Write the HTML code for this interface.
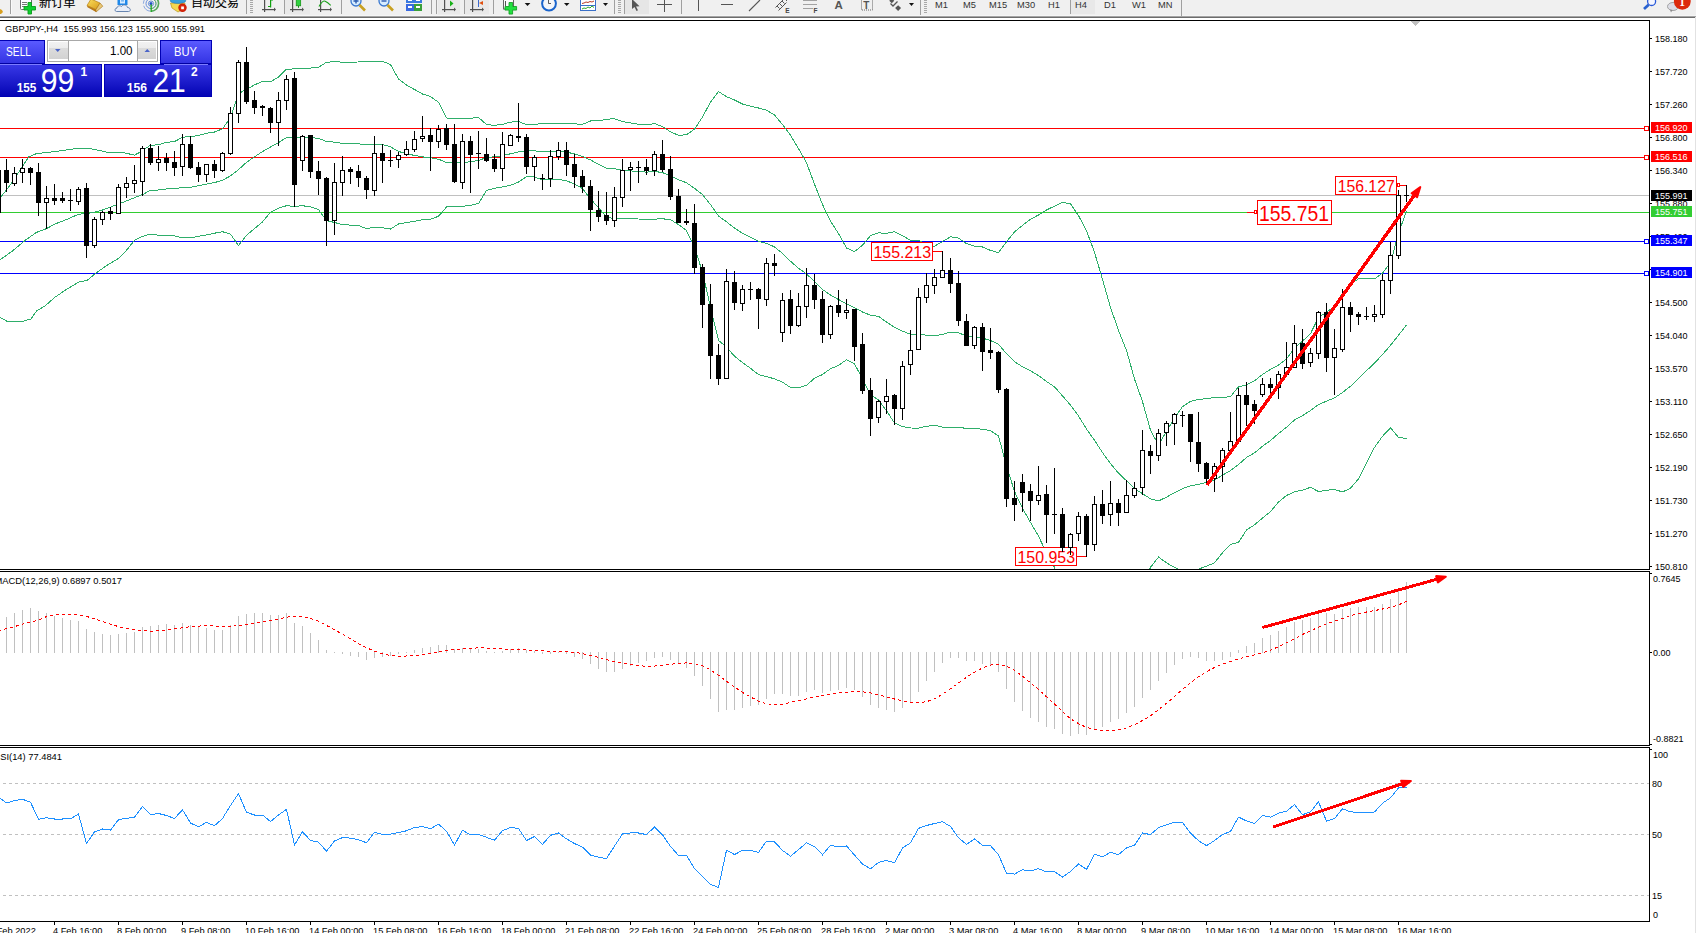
<!DOCTYPE html><html><head><meta charset="utf-8"><title>GBPJPY,H4</title><style>
html,body{margin:0;padding:0;background:#fff;overflow:hidden;}
svg{display:block;} text{font-family:'Liberation Sans', Arial, sans-serif;}
</style></head><body>
<svg width="1696" height="933" viewBox="0 0 1696 933">
<rect x="0" y="0" width="1696" height="16" fill="#f0f0f0"/>
<rect x="0" y="15" width="1696" height="1" fill="#f5f5f5"/>
<rect x="0" y="16" width="1696" height="1" fill="#a4a4a4"/>
<rect x="0" y="17" width="1696" height="1" fill="#6c6c6c"/>
<rect x="1695" y="17" width="1" height="916" fill="#e2e2e2"/>
<g id="toolbar">
<!-- partial gold icon at left -->
<polygon points="0,9 2,10 3,12 1,14 0,14" fill="#d8a020"/>
<rect x="10" y="0" width="1" height="14" fill="#a0a0a0"/>
<rect x="11" y="0" width="1" height="14" fill="#fafafa"/>
<!-- new order icon -->
<rect x="20.5" y="-2.5" width="11" height="12" rx="1" fill="#fff" stroke="#6a6a6a" stroke-width="1"/>
<rect x="22" y="2" width="5" height="1" fill="#777"/>
<rect x="22" y="4" width="5" height="1" fill="#777"/>
<rect x="22" y="6" width="3" height="1" fill="#777"/>
<path d="M28,2.5h3.5v4h4v3.5h-4v4h-3.5v-4h-4v-3.5h4z" fill="#10d030" stroke="#0a9a1a" stroke-width="0.9"/>
<text x="39" y="6.8" font-size="12.2" fill="#000" stroke="#000" stroke-width="0.12" style="font-family:'Liberation Sans','Noto Sans CJK SC','WenQuanYi Zen Hei',sans-serif">新订单</text>
<!-- gold book -->
<defs>
<linearGradient id="gGold" x1="0" y1="0" x2="1" y2="1"><stop offset="0" stop-color="#fbe060"/><stop offset="1" stop-color="#d89a18"/></linearGradient>
<radialGradient id="gRad" cx="0.5" cy="0.5" r="0.5"><stop offset="0" stop-color="#f04020"/><stop offset="1" stop-color="#c81800"/></radialGradient>
</defs>
<polygon points="87,5.5 91,-1 100,3 96,9.5" fill="url(#gGold)" stroke="#b88010" stroke-width="0.7"/>
<polygon points="87,5.5 96,9.5 96,12 87.5,7.3" fill="#b87818"/>
<polygon points="96,9.5 100,3 102.8,6.2 96,12" fill="#e8c878" stroke="#a87010" stroke-width="0.6"/>
<!-- blue doc + cloud -->
<rect x="117.5" y="-2" width="10" height="7" fill="#1e88ea"/>
<rect x="120" y="-1" width="5" height="4.5" fill="#d8ecff"/>
<rect x="121" y="0.5" width="3" height="0.8" fill="#1e88ea"/>
<path d="M116.5,11.5 C114.5,11.5 114.5,8 117,8 C117,6 120,5 121.5,6.5 C122.5,4 127,4.5 127.5,7.5 C130.5,7.3 131.5,11.5 128.5,11.5 Z" fill="#e8eef8" stroke="#5878a8" stroke-width="0.9"/>
<!-- radio waves -->
<g fill="none">
<circle cx="151" cy="3.6" r="7.6" stroke="#8aa8e0" stroke-width="1" stroke-dasharray="11 1.5 9 2"/>
<path d="M151,-4 A7.6,7.6 0 0 1 151,11.2" stroke="#58aa58" stroke-width="1.6"/>
<circle cx="151" cy="3.6" r="5" stroke="#5a86d8" stroke-width="0.9"/>
<path d="M151,-1.4 A5,5 0 0 1 151,8.6" stroke="#6ab46a" stroke-width="1"/>
<circle cx="151" cy="3.6" r="2.6" stroke="#4a7ad0" stroke-width="0.8"/>
</g>
<circle cx="151" cy="3.6" r="1.5" fill="#2050c8"/>
<rect x="150.5" y="4.5" width="1.3" height="7.5" fill="#18a818"/>
<!-- autotrading -->
<polygon points="170.5,3 185,3 183.5,9 178,12 172,8" fill="#f4d850" stroke="#b89820" stroke-width="0.7"/>
<ellipse cx="178" cy="0.8" rx="7.8" ry="2.6" fill="#3aa0dc" stroke="#2a78b0" stroke-width="0.6"/>
<circle cx="182.5" cy="7.8" r="4.2" fill="url(#gRad)"/>
<rect x="181.2" y="6.5" width="2.7" height="2.7" fill="#fff"/>
<text x="191" y="7" font-size="12" fill="#000" stroke="#000" stroke-width="0.12" style="font-family:'Liberation Sans','Noto Sans CJK SC','WenQuanYi Zen Hei',sans-serif">自动交易</text>
<!-- separators -->
<rect x="246" y="0" width="1" height="14" fill="#a0a0a0"/>
<g fill="#a8a8a8"><rect x="250" y="0" width="3" height="1"/><rect x="250" y="2" width="3" height="1"/><rect x="250" y="4" width="3" height="1"/><rect x="250" y="6" width="3" height="1"/><rect x="250" y="8" width="3" height="1"/><rect x="250" y="10" width="3" height="1"/><rect x="250" y="12" width="3" height="1"/></g>
<!-- bar chart icon -->
<rect x="264" y="0" width="1.2" height="12" fill="#505050"/><rect x="262" y="9" width="12" height="1.2" fill="#505050"/><polygon points="274,7.6 276,9.6 274,11.6" fill="#505050"/>
<path d="M268,6.5h2.5M270.6,7.6v-8M270.6,0h2.4" fill="none" stroke="#10a010" stroke-width="1.2"/>
<rect x="284" y="0" width="1" height="14" fill="#a0a0a0"/>
<!-- pressed candle button -->
<rect x="285" y="-1" width="25" height="15.5" fill="#e9e9e9"/>
<rect x="292" y="0" width="1.2" height="12" fill="#505050"/><rect x="290" y="9" width="12" height="1.2" fill="#505050"/><polygon points="302,7.6 304,9.6 302,11.6" fill="#505050"/>
<rect x="296.2" y="-1" width="4.5" height="6.8" fill="#30d040" stroke="#109010" stroke-width="0.7"/>
<rect x="298" y="5.8" width="1" height="2" fill="#109010"/>
<!-- line chart icon -->
<rect x="320" y="0" width="1.2" height="12" fill="#505050"/><rect x="318" y="9" width="12" height="1.2" fill="#505050"/><polygon points="330,7.6 332,9.6 330,11.6" fill="#505050"/>
<path d="M319,6.6 Q322.5,0.2 325.2,1.2 Q327.5,2.2 330.7,5.3" fill="none" stroke="#18a018" stroke-width="1.1"/>
<rect x="341" y="0" width="1" height="14" fill="#a0a0a0"/>
<!-- zoom in / out -->
<g>
<circle cx="356" cy="1" r="5" fill="#d6ecff" stroke="#3a78d0" stroke-width="1.3"/>
<path d="M359.5,5 L365,10.5" stroke="#c8a020" stroke-width="2.6"/>
<path d="M353.5,1h5M356,-1.5v5" stroke="#2a5ab0" stroke-width="1.4"/>
<circle cx="384" cy="1" r="5" fill="#d6ecff" stroke="#3a78d0" stroke-width="1.3"/>
<path d="M387.5,5 L393,10.5" stroke="#c8a020" stroke-width="2.6"/>
<path d="M381.5,1h5" stroke="#2a5ab0" stroke-width="1.4"/>
</g>
<!-- tile -->
<rect x="406" y="-3" width="8" height="6" fill="#3a7ae0"/><rect x="414" y="-3" width="8" height="6" fill="#3a7ae0"/>
<rect x="406" y="4" width="8" height="7" fill="#3a6ae0"/><rect x="414" y="4" width="8" height="7" fill="#3aa03a"/>
<rect x="408" y="6" width="4" height="2" fill="#fff"/><rect x="416" y="6" width="4" height="2" fill="#fff"/>
<rect x="408" y="-1" width="4" height="2" fill="#fff"/><rect x="416" y="-1" width="4" height="2" fill="#fff"/>
<rect x="431" y="0" width="1" height="14" fill="#a0a0a0"/>
<rect x="436" y="0" width="1" height="14" fill="#a0a0a0"/>
<!-- autoscroll pressed -->
<rect x="438" y="-1" width="22" height="15.5" fill="#e9e9e9"/>
<rect x="444" y="0" width="1.2" height="12" fill="#505050"/><rect x="442" y="9" width="12" height="1.2" fill="#505050"/><polygon points="454,7.6 456,9.6 454,11.6" fill="#505050"/>
<polygon points="450,0.5 450,6.5 453.5,3.5" fill="#18b018"/>
<rect x="464" y="0" width="1" height="14" fill="#a0a0a0"/>
<rect x="465" y="-1" width="24" height="15.5" fill="#e9e9e9"/>
<rect x="472" y="0" width="1.2" height="12" fill="#505050"/><rect x="470" y="9" width="12" height="1.2" fill="#505050"/><polygon points="482,7.6 484,9.6 482,11.6" fill="#505050"/>
<rect x="478" y="0" width="1" height="7" fill="#3a6ad0"/>
<polygon points="479,3 483,1 483,5" fill="#e05010"/>
<rect x="493" y="0" width="1" height="14" fill="#a0a0a0"/>
<!-- indicators -->
<rect x="503.5" y="-2.5" width="10" height="11.5" fill="#fdfdfd" stroke="#666" stroke-width="1"/>
<rect x="505" y="1" width="1" height="5" fill="#555"/>
<path d="M509,2.5h3.6v4h4v3.6h-4v4h-3.6v-4h-4v-3.6h4z" fill="#22e040" stroke="#0a9a1a" stroke-width="0.8"/>
<polygon points="524.7,3 530.4,3 527.5,6" fill="#111"/>
<!-- clock -->
<circle cx="549" cy="3.6" r="6.9" fill="#f4f6fa" stroke="#1a64cc" stroke-width="2"/>
<path d="M548.5,-0.5v4h2.5" fill="none" stroke="#333" stroke-width="0.8"/>
<polygon points="564,3 569.5,3 566.7,6" fill="#111"/>
<!-- templates -->
<rect x="580.5" y="-2.5" width="15" height="13" fill="#fff" stroke="#3a70c8" stroke-width="1"/>
<path d="M582,3.5 l2,-0.5 2,-1 2,0.5 2,-1 2,0.5 2,-1" fill="none" stroke="#b02810" stroke-width="0.9"/>
<rect x="581" y="5" width="14" height="1" fill="#3a70c8"/>
<path d="M582,9 l2,-1 2,0.5 2,-1.5 2,1 2,-2 2,1.5" fill="none" stroke="#18a018" stroke-width="0.9"/>
<polygon points="603,3 608,3 605.5,6" fill="#111"/>
<rect x="614" y="0" width="1" height="14" fill="#a0a0a0"/>
<g fill="#a8a8a8"><rect x="618" y="0" width="3" height="1"/><rect x="618" y="2" width="3" height="1"/><rect x="618" y="4" width="3" height="1"/><rect x="618" y="6" width="3" height="1"/><rect x="618" y="8" width="3" height="1"/><rect x="618" y="10" width="3" height="1"/><rect x="618" y="12" width="3" height="1"/></g>
<rect x="624" y="0" width="1" height="14" fill="#a0a0a0"/>
<!-- cursor pressed -->
<rect x="625" y="-1" width="24" height="15" fill="#e6e6e6"/>
<polygon points="632,-1 632,9 634.5,7 636.5,11 638,10.3 636,6.5 639.5,6.3" fill="#555"/>
<!-- crosshair -->
<rect x="657" y="4" width="15" height="1" fill="#555"/><rect x="664" y="-3" width="1" height="15" fill="#555"/>
<rect x="681" y="0" width="1" height="14" fill="#a0a0a0"/>
<rect x="698" y="0" width="1" height="11" fill="#555"/>
<rect x="721" y="4" width="12" height="1" fill="#555"/>
<path d="M749,11 L760,0" stroke="#555" stroke-width="1.1"/>
<g stroke="#555" stroke-width="1" fill="none">
<path d="M775.5,7.5 L783.5,-0.5 M778.5,10.5 L786.5,2.5"/>
<path d="M777,6 l2.5,2.5 M779.5,3.5 l2.5,2.5 M782,1 l2.5,2.5 M784.5,-1.5 l2.5,2.5"/>
</g>
<text x="785.3" y="12.8" font-size="6.5" font-weight="bold" fill="#444">E</text>
<g stroke="#555" stroke-width="1" stroke-dasharray="1 1" fill="none">
<path d="M803.5,0.5h13M803.5,4.5h13M803.5,8.5h10"/>
</g>
<text x="813.5" y="12.8" font-size="6.5" font-weight="bold" fill="#444">F</text>
<text x="834.6" y="8.6" font-size="11.5" font-weight="bold" fill="#555">A</text>
<rect x="861.5" y="-1.5" width="11" height="11.5" fill="none" stroke="#666" stroke-width="1" stroke-dasharray="1 1"/>
<text x="863.2" y="8.6" font-size="10" font-weight="bold" fill="#555">T</text>
<path d="M890.5,3.5 l2.5,2.5 4.5,-4.5" fill="none" stroke="#555" stroke-width="1.3"/>
<rect x="896" y="6" width="4.2" height="4.2" fill="#555" transform="rotate(45 898.1 8.1)"/>
<rect x="890" y="-1" width="3.5" height="3.5" fill="#555" transform="rotate(45 891.75 0.75)"/>
<polygon points="909,3 914,3 911.5,6" fill="#111"/>
<rect x="920" y="0" width="1" height="15" fill="#a0a0a0"/>
<g fill="#a8a8a8"><rect x="924" y="0" width="3" height="1"/><rect x="924" y="2" width="3" height="1"/><rect x="924" y="4" width="3" height="1"/><rect x="924" y="6" width="3" height="1"/><rect x="924" y="8" width="3" height="1"/><rect x="924" y="10" width="3" height="1"/><rect x="924" y="12" width="3" height="1"/></g>
<!-- timeframes -->
<rect x="1070" y="-1" width="25" height="15" fill="#e8e8e8"/>
<rect x="1070" y="0" width="1" height="14" fill="#a0a0a0"/>
<g font-size="9.3" fill="#333">
<text x="935" y="7.8">M1</text>
<text x="963" y="7.8">M5</text>
<text x="989" y="7.8">M15</text>
<text x="1017" y="7.8">M30</text>
<text x="1048" y="7.8">H1</text>
<text x="1075" y="7.8">H4</text>
<text x="1104" y="7.8">D1</text>
<text x="1132" y="7.8">W1</text>
<text x="1158" y="7.8">MN</text>
</g>
<rect x="1181" y="0" width="1" height="16" fill="#a0a0a0"/>
<!-- search -->
<circle cx="1651.6" cy="1.5" r="4" fill="#f4f6ff" stroke="#2a5ad8" stroke-width="1.3"/>
<path d="M1648.6,4.8 L1644,9" stroke="#2a62d0" stroke-width="2.8"/>
<!-- chat + badge -->
<ellipse cx="1673" cy="6.5" rx="5.5" ry="4" fill="#dcdde6" stroke="#9a9a9a" stroke-width="0.9"/>
<polygon points="1670,9.5 1672.5,10 1671,12.5" fill="#8a8a8a"/>
<circle cx="1682.3" cy="1.4" r="8.4" fill="#dc2a0c"/>
<text x="1679.2" y="5.9" font-size="11.5" font-weight="bold" fill="#fff" style="font-family:'Liberation Serif',serif">1</text>
</g>

<g shape-rendering="crispEdges">
<rect x="0" y="20" width="1650" height="1" fill="#000"/>
<rect x="0" y="569" width="1650" height="1" fill="#000"/>
<rect x="0" y="571" width="1650" height="1" fill="#000"/>
<rect x="0" y="745" width="1650" height="1" fill="#000"/>
<rect x="0" y="747" width="1650" height="1" fill="#000"/>
<rect x="0" y="921" width="1650" height="1" fill="#000"/>
<rect x="1649" y="20" width="1" height="550" fill="#000"/>
<rect x="1649" y="571" width="1" height="175" fill="#000"/>
<rect x="1649" y="747" width="1" height="175" fill="#000"/>
<polygon points="1411,21 1420,21 1415.5,26" fill="#c0c0c0"/>
<rect x="1650" y="38" width="2" height="1" fill="#000"/>
<text x="1655" y="42" font-size="9.6" fill="#000" textLength="32.6" lengthAdjust="spacingAndGlyphs">158.180</text>
<rect x="1650" y="71" width="2" height="1" fill="#000"/>
<text x="1655" y="75" font-size="9.6" fill="#000" textLength="32.6" lengthAdjust="spacingAndGlyphs">157.720</text>
<rect x="1650" y="104" width="2" height="1" fill="#000"/>
<text x="1655" y="108" font-size="9.6" fill="#000" textLength="32.6" lengthAdjust="spacingAndGlyphs">157.260</text>
<rect x="1650" y="137" width="2" height="1" fill="#000"/>
<text x="1655" y="141" font-size="9.6" fill="#000" textLength="32.6" lengthAdjust="spacingAndGlyphs">156.800</text>
<rect x="1650" y="170" width="2" height="1" fill="#000"/>
<text x="1655" y="174" font-size="9.6" fill="#000" textLength="32.6" lengthAdjust="spacingAndGlyphs">156.340</text>
<rect x="1650" y="203" width="2" height="1" fill="#000"/>
<text x="1655" y="207" font-size="9.6" fill="#000" textLength="32.6" lengthAdjust="spacingAndGlyphs">155.880</text>
<rect x="1650" y="236" width="2" height="1" fill="#000"/>
<text x="1655" y="240" font-size="9.6" fill="#000" textLength="32.6" lengthAdjust="spacingAndGlyphs">155.420</text>
<rect x="1650" y="269" width="2" height="1" fill="#000"/>
<text x="1655" y="273" font-size="9.6" fill="#000" textLength="32.6" lengthAdjust="spacingAndGlyphs">154.960</text>
<rect x="1650" y="302" width="2" height="1" fill="#000"/>
<text x="1655" y="306" font-size="9.6" fill="#000" textLength="32.6" lengthAdjust="spacingAndGlyphs">154.500</text>
<rect x="1650" y="335" width="2" height="1" fill="#000"/>
<text x="1655" y="339" font-size="9.6" fill="#000" textLength="32.6" lengthAdjust="spacingAndGlyphs">154.040</text>
<rect x="1650" y="368" width="2" height="1" fill="#000"/>
<text x="1655" y="372" font-size="9.6" fill="#000" textLength="32.6" lengthAdjust="spacingAndGlyphs">153.570</text>
<rect x="1650" y="401" width="2" height="1" fill="#000"/>
<text x="1655" y="405" font-size="9.6" fill="#000" textLength="32.6" lengthAdjust="spacingAndGlyphs">153.110</text>
<rect x="1650" y="434" width="2" height="1" fill="#000"/>
<text x="1655" y="438" font-size="9.6" fill="#000" textLength="32.6" lengthAdjust="spacingAndGlyphs">152.650</text>
<rect x="1650" y="467" width="2" height="1" fill="#000"/>
<text x="1655" y="471" font-size="9.6" fill="#000" textLength="32.6" lengthAdjust="spacingAndGlyphs">152.190</text>
<rect x="1650" y="500" width="2" height="1" fill="#000"/>
<text x="1655" y="504" font-size="9.6" fill="#000" textLength="32.6" lengthAdjust="spacingAndGlyphs">151.730</text>
<rect x="1650" y="533" width="2" height="1" fill="#000"/>
<text x="1655" y="537" font-size="9.6" fill="#000" textLength="32.6" lengthAdjust="spacingAndGlyphs">151.270</text>
<rect x="1650" y="566" width="2" height="1" fill="#000"/>
<text x="1655" y="570" font-size="9.6" fill="#000" textLength="32.6" lengthAdjust="spacingAndGlyphs">150.810</text>
<rect x="0" y="128" width="1649" height="1" fill="#ff0000"/>
<rect x="1644.5" y="126.5" width="4" height="4" fill="#fff" stroke="#ff0000" stroke-width="1"/>
<rect x="0" y="157" width="1649" height="1" fill="#ff0000"/>
<rect x="1644.5" y="155.5" width="4" height="4" fill="#fff" stroke="#ff0000" stroke-width="1"/>
<rect x="0" y="195" width="1649" height="1" fill="#c0c0c0"/>
<rect x="0" y="212" width="1649" height="1" fill="#32cd32"/>
<rect x="0" y="241" width="1649" height="1" fill="#0000ff"/>
<rect x="1644.5" y="239.5" width="4" height="4" fill="#fff" stroke="#0000ff" stroke-width="1"/>
<rect x="0" y="273" width="1649" height="1" fill="#0000ff"/>
<rect x="1644.5" y="271.5" width="4" height="4" fill="#fff" stroke="#0000ff" stroke-width="1"/>
<rect x="1651" y="122" width="41" height="11" fill="#ff0000"/>
<text x="1655" y="131" font-size="9.6" fill="#fff" textLength="32.6" lengthAdjust="spacingAndGlyphs">156.920</text>
<rect x="1651" y="151" width="41" height="11" fill="#ff0000"/>
<text x="1655" y="160" font-size="9.6" fill="#fff" textLength="32.6" lengthAdjust="spacingAndGlyphs">156.516</text>
<rect x="1651" y="190" width="41" height="11" fill="#000000"/>
<text x="1655" y="199" font-size="9.6" fill="#fff" textLength="32.6" lengthAdjust="spacingAndGlyphs">155.991</text>
<rect x="1651" y="206" width="41" height="11" fill="#32cd32"/>
<text x="1655" y="215" font-size="9.6" fill="#fff" textLength="32.6" lengthAdjust="spacingAndGlyphs">155.751</text>
<rect x="1651" y="235" width="41" height="11" fill="#0000ff"/>
<text x="1655" y="244" font-size="9.6" fill="#fff" textLength="32.6" lengthAdjust="spacingAndGlyphs">155.347</text>
<rect x="1651" y="267" width="41" height="11" fill="#0000ff"/>
<text x="1655" y="276" font-size="9.6" fill="#fff" textLength="32.6" lengthAdjust="spacingAndGlyphs">154.901</text>
</g>
<defs><clipPath id="cMain"><rect x="0" y="21" width="1649" height="548"/></clipPath><clipPath id="cMacd"><rect x="0" y="572" width="1649" height="173"/></clipPath><clipPath id="cRsi"><rect x="0" y="748" width="1649" height="173"/></clipPath></defs>
<g fill="none" stroke="#2eae6a" stroke-width="1" clip-path="url(#cMain)" shape-rendering="crispEdges">
<polyline points="-1.5,200.5 0.5,197.5 11.8,182.9 28.6,157.0 36.5,153.6 56.5,151.4 77.0,148.5 89.5,148.5 100.5,150.7 109.5,153.0 121.0,152.0 134.5,155.2 141.3,151.4 150.3,145.3 158.5,144.8 166.5,142.3 174.5,141.6 182.5,137.2 190.5,136.6 198.5,135.5 206.5,133.3 214.5,132.0 222.5,128.8 230.5,117.7 238.5,93.6 246.5,89.3 254.5,84.9 262.5,81.3 270.5,81.7 278.5,77.1 286.5,69.2 294.5,68.9 302.5,68.4 310.5,68.1 318.5,67.3 326.5,62.2 334.5,61.8 342.5,62.1 350.5,62.1 358.5,62.0 366.5,61.3 374.5,61.1 382.5,61.3 390.5,64.6 398.5,78.9 406.5,85.0 414.5,89.5 422.5,94.0 430.5,96.6 438.5,102.2 446.5,118.0 454.5,118.1 462.5,119.0 470.5,118.2 478.5,117.5 486.5,124.5 494.5,125.4 502.5,124.3 510.5,122.2 518.5,121.4 526.5,124.7 534.5,124.7 542.5,123.3 550.5,123.3 558.5,123.1 566.5,123.3 574.5,123.9 582.5,124.3 590.5,121.0 598.5,120.9 606.5,119.2 614.5,118.7 622.5,121.7 630.5,122.9 638.5,124.2 646.5,125.0 654.5,123.6 662.5,126.5 670.5,131.8 678.5,135.3 686.5,134.8 694.5,129.2 702.5,117.0 710.5,102.0 718.5,91.6 726.5,96.7 734.5,100.0 742.5,104.0 750.5,106.2 758.5,108.0 766.5,110.1 774.5,115.0 782.5,124.6 790.5,135.2 798.5,148.5 806.5,162.8 814.5,184.2 822.5,204.5 830.5,221.2 838.5,233.5 846.5,248.0 854.5,251.6 862.5,245.3 870.5,235.7 878.5,232.8 886.5,233.4 894.5,231.6 902.5,235.7 910.5,240.4 918.5,240.2 926.5,244.2 934.5,246.3 942.5,241.5 950.5,236.8 958.5,238.1 966.5,243.6 974.5,246.3 982.5,247.0 990.5,250.4 998.5,252.7 1006.5,241.7 1014.5,231.9 1022.5,225.4 1030.5,219.3 1038.5,215.0 1046.5,210.0 1054.5,206.1 1062.5,202.4 1070.5,203.8 1078.5,215.6 1086.5,230.6 1094.5,252.3 1102.5,279.3 1110.5,307.5 1118.5,330.4 1126.5,350.4 1134.5,379.0 1142.5,401.6 1150.5,430.3 1158.5,444.8 1166.5,431.5 1174.5,417.9 1182.5,406.6 1190.5,401.4 1198.5,399.4 1206.5,398.7 1214.5,397.4 1222.5,397.6 1230.5,396.6 1238.5,386.8 1246.5,384.9 1254.5,380.9 1262.5,374.4 1270.5,369.4 1278.5,365.0 1286.5,358.9 1294.5,348.1 1302.5,341.1 1310.5,333.7 1318.5,317.4 1326.5,312.2 1334.5,306.3 1342.5,293.2 1350.5,284.0 1358.5,278.9 1366.5,278.5 1374.5,278.9 1382.5,273.0 1390.5,262.9 1398.5,233.4 1406.5,211.1"/>
<polyline points="-1.5,260.5 0.5,259.4 11.8,251.5 25.2,240.3 36.5,232.4 45.5,229.0 56.5,223.4 68.0,218.9 78.1,214.4 91.8,212.8 103.0,209.9 121.0,203.1 132.2,198.6 143.5,194.1 150.3,190.3 158.5,190.0 166.5,189.0 174.5,188.7 182.5,187.5 190.5,187.3 198.5,185.8 206.5,184.1 214.5,182.6 222.5,180.2 230.5,175.9 238.5,169.6 246.5,162.3 254.5,156.8 262.5,151.6 270.5,147.0 278.5,142.7 286.5,137.5 294.5,137.7 302.5,137.0 310.5,137.5 318.5,138.5 326.5,141.4 334.5,142.1 342.5,143.4 350.5,143.6 358.5,143.7 366.5,145.0 374.5,144.1 382.5,144.5 390.5,146.8 398.5,151.4 406.5,153.8 414.5,155.4 422.5,156.9 430.5,157.8 438.5,159.2 446.5,162.5 454.5,162.4 462.5,162.6 470.5,161.8 478.5,160.5 486.5,157.5 494.5,156.8 502.5,155.6 510.5,153.8 518.5,151.8 526.5,150.6 534.5,150.8 542.5,151.7 550.5,151.5 558.5,151.3 566.5,152.1 574.5,153.9 582.5,156.5 590.5,159.9 598.5,164.3 606.5,168.1 614.5,168.8 622.5,170.3 630.5,170.9 638.5,171.6 646.5,172.1 654.5,171.4 662.5,172.6 670.5,175.7 678.5,179.9 686.5,182.7 694.5,188.3 702.5,194.6 710.5,204.6 718.5,216.0 726.5,221.8 734.5,228.1 742.5,233.2 750.5,237.2 758.5,241.3 766.5,243.4 774.5,246.9 782.5,253.4 790.5,261.3 798.5,268.2 806.5,274.0 814.5,281.3 822.5,289.5 830.5,295.0 838.5,299.5 846.5,303.8 854.5,307.7 862.5,312.0 870.5,315.2 878.5,316.3 886.5,322.1 894.5,327.3 902.5,331.2 910.5,334.2 918.5,334.1 926.5,335.2 934.5,335.8 942.5,334.3 950.5,332.2 958.5,332.9 966.5,335.9 974.5,337.3 982.5,338.1 990.5,340.5 998.5,344.3 1006.5,353.8 1014.5,361.7 1022.5,366.8 1030.5,370.9 1038.5,375.6 1046.5,381.5 1054.5,386.8 1062.5,395.9 1070.5,405.1 1078.5,416.0 1086.5,429.0 1094.5,440.3 1102.5,452.6 1110.5,463.6 1118.5,473.2 1126.5,480.7 1134.5,488.7 1142.5,493.7 1150.5,498.8 1158.5,500.9 1166.5,497.2 1174.5,492.6 1182.5,488.7 1190.5,485.8 1198.5,484.3 1206.5,482.5 1214.5,480.1 1222.5,475.2 1230.5,470.6 1238.5,464.5 1246.5,457.5 1254.5,452.8 1262.5,446.3 1270.5,440.5 1278.5,433.6 1286.5,427.2 1294.5,420.0 1302.5,415.6 1310.5,410.5 1318.5,404.5 1326.5,401.2 1334.5,397.9 1342.5,392.5 1350.5,386.2 1358.5,378.8 1366.5,370.7 1374.5,363.1 1382.5,354.6 1390.5,345.3 1398.5,335.3 1406.5,324.8"/>
<polyline points="-1.5,317.5 0.5,317.9 7.2,321.3 23.0,321.3 30.9,319.0 36.5,311.1 45.5,305.5 54.5,297.6 65.8,289.8 79.2,281.9 87.2,280.3 96.2,272.9 107.5,265.0 118.8,258.3 125.5,251.5 134.5,240.3 141.2,236.9 150.2,234.0 158.5,235.2 166.5,235.7 174.5,235.8 182.5,237.8 190.5,237.9 198.5,236.2 206.5,235.0 214.5,233.2 222.5,231.7 230.5,234.1 238.5,245.5 246.5,235.4 254.5,228.6 262.5,221.9 270.5,212.3 278.5,208.2 286.5,205.7 294.5,206.5 302.5,205.7 310.5,206.9 318.5,209.6 326.5,220.5 334.5,222.5 342.5,224.6 350.5,225.1 358.5,225.4 366.5,228.7 374.5,227.2 382.5,227.8 390.5,229.1 398.5,224.0 406.5,222.6 414.5,221.3 422.5,219.7 430.5,219.1 438.5,216.3 446.5,207.0 454.5,206.6 462.5,206.3 470.5,205.3 478.5,203.5 486.5,190.5 494.5,188.2 502.5,186.9 510.5,185.3 518.5,182.1 526.5,176.6 534.5,176.9 542.5,180.0 550.5,179.7 558.5,179.5 566.5,180.8 574.5,184.0 582.5,188.6 590.5,198.8 598.5,207.7 606.5,216.9 614.5,219.0 622.5,218.8 630.5,218.9 638.5,219.0 646.5,219.2 654.5,219.1 662.5,218.8 670.5,219.6 678.5,224.6 686.5,230.6 694.5,247.4 702.5,272.2 710.5,307.1 718.5,340.4 726.5,347.0 734.5,356.2 742.5,362.5 750.5,368.3 758.5,374.6 766.5,376.7 774.5,378.8 782.5,382.2 790.5,387.4 798.5,388.0 806.5,385.2 814.5,378.3 822.5,374.5 830.5,368.7 838.5,365.5 846.5,359.7 854.5,363.9 862.5,378.8 870.5,394.7 878.5,399.9 886.5,410.8 894.5,423.0 902.5,426.6 910.5,428.0 918.5,428.1 926.5,426.3 934.5,425.3 942.5,427.1 950.5,427.5 958.5,427.7 966.5,428.2 974.5,428.2 982.5,429.3 990.5,430.6 998.5,435.9 1006.5,465.8 1014.5,491.5 1022.5,508.2 1030.5,522.5 1038.5,536.1 1046.5,553.0 1054.5,567.5 1062.5,589.3 1070.5,606.3 1078.5,616.4 1086.5,627.4 1094.5,628.4 1102.5,626.0 1110.5,619.7 1118.5,616.0 1126.5,611.1 1134.5,598.5 1142.5,585.7 1150.5,567.3 1158.5,557.1 1166.5,562.8 1174.5,567.4 1182.5,570.9 1190.5,570.2 1198.5,569.1 1206.5,566.2 1214.5,562.8 1222.5,552.8 1230.5,544.5 1238.5,542.2 1246.5,530.1 1254.5,524.8 1262.5,518.1 1270.5,511.6 1278.5,502.1 1286.5,495.5 1294.5,491.8 1302.5,490.1 1310.5,487.3 1318.5,491.6 1326.5,490.2 1334.5,489.5 1342.5,491.9 1350.5,488.3 1358.5,478.8 1366.5,463.0 1374.5,447.4 1382.5,436.3 1390.5,427.8 1398.5,437.3 1406.5,438.6"/>
</g>
<rect x="871.5" y="242.5" width="61" height="18" fill="#fff" stroke="#ff0000" stroke-width="1" shape-rendering="crispEdges"/>
<text x="873.5" y="258.0" font-size="16" fill="#ff0000" textLength="57.6" lengthAdjust="spacingAndGlyphs">155.213</text>
<rect x="933" y="251" width="10" height="1" fill="#ff0000"/>
<rect x="1015.5" y="547.5" width="61" height="18" fill="#fff" stroke="#ff0000" stroke-width="1" shape-rendering="crispEdges"/>
<text x="1017.5" y="563.0" font-size="16" fill="#ff0000" textLength="57.6" lengthAdjust="spacingAndGlyphs">150.953</text>
<rect x="1077" y="556" width="10" height="1" fill="#ff0000"/>
<rect x="1335.5" y="176.5" width="61" height="18" fill="#fff" stroke="#ff0000" stroke-width="1" shape-rendering="crispEdges"/>
<text x="1337.7" y="192.0" font-size="16" fill="#ff0000" textLength="57" lengthAdjust="spacingAndGlyphs">156.127</text>
<rect x="1397.5" y="183.5" width="2" height="3" fill="#fff" stroke="#ff0000" stroke-width="1" shape-rendering="crispEdges"/>
<rect x="1400" y="185" width="7" height="1" fill="#ff0000"/>
<rect x="1257.5" y="200.5" width="74" height="24" fill="#fff" stroke="#ff0000" stroke-width="1" shape-rendering="crispEdges"/>
<text x="1259.0" y="221.3" font-size="22" fill="#ff0000" textLength="70" lengthAdjust="spacingAndGlyphs">155.751</text>
<rect x="1247" y="212" width="7" height="1" fill="#ff0000"/>
<rect x="1254.5" y="210.5" width="2" height="3" fill="#fff" stroke="#ff0000" stroke-width="1" shape-rendering="crispEdges"/>
<g shape-rendering="crispEdges" clip-path="url(#cMain)">
<rect x="-2" y="160" width="1" height="55" fill="#000"/>
<rect x="-4" y="170" width="5" height="43" fill="#000"/>
<rect x="6" y="159" width="1" height="33" fill="#000"/>
<rect x="4" y="170" width="5" height="13" fill="#000"/>
<rect x="14" y="167" width="1" height="19" fill="#000"/>
<rect x="12" y="173" width="5" height="11" fill="#000"/>
<rect x="13" y="174" width="3" height="9" fill="#fff"/>
<rect x="22" y="159" width="1" height="24" fill="#000"/>
<rect x="20" y="168" width="5" height="5" fill="#000"/>
<rect x="21" y="169" width="3" height="3" fill="#fff"/>
<rect x="30" y="167" width="1" height="18" fill="#000"/>
<rect x="28" y="168" width="5" height="5" fill="#000"/>
<rect x="38" y="163" width="1" height="53" fill="#000"/>
<rect x="36" y="172" width="5" height="31" fill="#000"/>
<rect x="46" y="186" width="1" height="43" fill="#000"/>
<rect x="44" y="198" width="5" height="5" fill="#000"/>
<rect x="45" y="199" width="3" height="3" fill="#fff"/>
<rect x="54" y="184" width="1" height="21" fill="#000"/>
<rect x="52" y="198" width="5" height="3" fill="#000"/>
<rect x="62" y="192" width="1" height="11" fill="#000"/>
<rect x="60" y="198" width="5" height="3" fill="#000"/>
<rect x="70" y="189" width="1" height="22" fill="#000"/>
<rect x="68" y="200" width="5" height="1" fill="#000"/>
<rect x="78" y="187" width="1" height="18" fill="#000"/>
<rect x="76" y="189" width="5" height="13" fill="#000"/>
<rect x="77" y="190" width="3" height="11" fill="#fff"/>
<rect x="86" y="183" width="1" height="75" fill="#000"/>
<rect x="84" y="188" width="5" height="58" fill="#000"/>
<rect x="94" y="217" width="1" height="31" fill="#000"/>
<rect x="92" y="219" width="5" height="27" fill="#000"/>
<rect x="93" y="220" width="3" height="25" fill="#fff"/>
<rect x="102" y="211" width="1" height="14" fill="#000"/>
<rect x="100" y="212" width="5" height="8" fill="#000"/>
<rect x="101" y="213" width="3" height="6" fill="#fff"/>
<rect x="110" y="207" width="1" height="13" fill="#000"/>
<rect x="108" y="211" width="5" height="3" fill="#000"/>
<rect x="118" y="184" width="1" height="30" fill="#000"/>
<rect x="116" y="187" width="5" height="27" fill="#000"/>
<rect x="117" y="188" width="3" height="25" fill="#fff"/>
<rect x="126" y="177" width="1" height="21" fill="#000"/>
<rect x="124" y="183" width="5" height="5" fill="#000"/>
<rect x="125" y="184" width="3" height="3" fill="#fff"/>
<rect x="134" y="165" width="1" height="28" fill="#000"/>
<rect x="132" y="180" width="5" height="4" fill="#000"/>
<rect x="133" y="181" width="3" height="2" fill="#fff"/>
<rect x="142" y="146" width="1" height="50" fill="#000"/>
<rect x="140" y="148" width="5" height="34" fill="#000"/>
<rect x="141" y="149" width="3" height="32" fill="#fff"/>
<rect x="150" y="144" width="1" height="21" fill="#000"/>
<rect x="148" y="148" width="5" height="15" fill="#000"/>
<rect x="158" y="146" width="1" height="25" fill="#000"/>
<rect x="156" y="159" width="5" height="4" fill="#000"/>
<rect x="157" y="160" width="3" height="2" fill="#fff"/>
<rect x="166" y="153" width="1" height="18" fill="#000"/>
<rect x="164" y="158" width="5" height="5" fill="#000"/>
<rect x="174" y="151" width="1" height="25" fill="#000"/>
<rect x="172" y="162" width="5" height="6" fill="#000"/>
<rect x="182" y="134" width="1" height="42" fill="#000"/>
<rect x="180" y="144" width="5" height="23" fill="#000"/>
<rect x="181" y="145" width="3" height="21" fill="#fff"/>
<rect x="190" y="136" width="1" height="33" fill="#000"/>
<rect x="188" y="144" width="5" height="24" fill="#000"/>
<rect x="198" y="162" width="1" height="20" fill="#000"/>
<rect x="196" y="167" width="5" height="8" fill="#000"/>
<rect x="206" y="164" width="1" height="18" fill="#000"/>
<rect x="204" y="164" width="5" height="11" fill="#000"/>
<rect x="205" y="165" width="3" height="9" fill="#fff"/>
<rect x="214" y="160" width="1" height="18" fill="#000"/>
<rect x="212" y="164" width="5" height="7" fill="#000"/>
<rect x="222" y="152" width="1" height="20" fill="#000"/>
<rect x="220" y="153" width="5" height="18" fill="#000"/>
<rect x="221" y="154" width="3" height="16" fill="#fff"/>
<rect x="230" y="107" width="1" height="48" fill="#000"/>
<rect x="228" y="113" width="5" height="41" fill="#000"/>
<rect x="229" y="114" width="3" height="39" fill="#fff"/>
<rect x="238" y="60" width="1" height="63" fill="#000"/>
<rect x="236" y="62" width="5" height="52" fill="#000"/>
<rect x="237" y="63" width="3" height="50" fill="#fff"/>
<rect x="246" y="47" width="1" height="57" fill="#000"/>
<rect x="244" y="62" width="5" height="40" fill="#000"/>
<rect x="254" y="91" width="1" height="23" fill="#000"/>
<rect x="252" y="100" width="5" height="8" fill="#000"/>
<rect x="262" y="105" width="1" height="11" fill="#000"/>
<rect x="260" y="106" width="5" height="2" fill="#000"/>
<rect x="270" y="107" width="1" height="26" fill="#000"/>
<rect x="268" y="108" width="5" height="15" fill="#000"/>
<rect x="278" y="92" width="1" height="54" fill="#000"/>
<rect x="276" y="100" width="5" height="23" fill="#000"/>
<rect x="277" y="101" width="3" height="21" fill="#fff"/>
<rect x="286" y="75" width="1" height="35" fill="#000"/>
<rect x="284" y="79" width="5" height="22" fill="#000"/>
<rect x="285" y="80" width="3" height="20" fill="#fff"/>
<rect x="294" y="72" width="1" height="135" fill="#000"/>
<rect x="292" y="78" width="5" height="107" fill="#000"/>
<rect x="302" y="135" width="1" height="36" fill="#000"/>
<rect x="300" y="136" width="5" height="25" fill="#000"/>
<rect x="301" y="137" width="3" height="23" fill="#fff"/>
<rect x="310" y="135" width="1" height="43" fill="#000"/>
<rect x="308" y="135" width="5" height="37" fill="#000"/>
<rect x="318" y="161" width="1" height="34" fill="#000"/>
<rect x="316" y="171" width="5" height="8" fill="#000"/>
<rect x="326" y="177" width="1" height="69" fill="#000"/>
<rect x="324" y="178" width="5" height="43" fill="#000"/>
<rect x="334" y="163" width="1" height="72" fill="#000"/>
<rect x="332" y="182" width="5" height="39" fill="#000"/>
<rect x="333" y="183" width="3" height="37" fill="#fff"/>
<rect x="342" y="156" width="1" height="40" fill="#000"/>
<rect x="340" y="170" width="5" height="13" fill="#000"/>
<rect x="341" y="171" width="3" height="11" fill="#fff"/>
<rect x="350" y="167" width="1" height="17" fill="#000"/>
<rect x="348" y="169" width="5" height="3" fill="#000"/>
<rect x="358" y="165" width="1" height="22" fill="#000"/>
<rect x="356" y="171" width="5" height="7" fill="#000"/>
<rect x="366" y="176" width="1" height="23" fill="#000"/>
<rect x="364" y="178" width="5" height="12" fill="#000"/>
<rect x="374" y="136" width="1" height="60" fill="#000"/>
<rect x="372" y="153" width="5" height="38" fill="#000"/>
<rect x="373" y="154" width="3" height="36" fill="#fff"/>
<rect x="382" y="144" width="1" height="39" fill="#000"/>
<rect x="380" y="153" width="5" height="8" fill="#000"/>
<rect x="390" y="150" width="1" height="17" fill="#000"/>
<rect x="388" y="160" width="5" height="1" fill="#000"/>
<rect x="398" y="152" width="1" height="16" fill="#000"/>
<rect x="396" y="155" width="5" height="5" fill="#000"/>
<rect x="397" y="156" width="3" height="3" fill="#fff"/>
<rect x="406" y="141" width="1" height="15" fill="#000"/>
<rect x="404" y="149" width="5" height="6" fill="#000"/>
<rect x="405" y="150" width="3" height="4" fill="#fff"/>
<rect x="414" y="131" width="1" height="21" fill="#000"/>
<rect x="412" y="139" width="5" height="11" fill="#000"/>
<rect x="413" y="140" width="3" height="9" fill="#fff"/>
<rect x="422" y="116" width="1" height="26" fill="#000"/>
<rect x="420" y="136" width="5" height="3" fill="#000"/>
<rect x="421" y="137" width="3" height="1" fill="#fff"/>
<rect x="430" y="128" width="1" height="43" fill="#000"/>
<rect x="428" y="135" width="5" height="7" fill="#000"/>
<rect x="438" y="125" width="1" height="23" fill="#000"/>
<rect x="436" y="129" width="5" height="13" fill="#000"/>
<rect x="437" y="130" width="3" height="11" fill="#fff"/>
<rect x="446" y="124" width="1" height="26" fill="#000"/>
<rect x="444" y="128" width="5" height="17" fill="#000"/>
<rect x="454" y="124" width="1" height="59" fill="#000"/>
<rect x="452" y="144" width="5" height="38" fill="#000"/>
<rect x="462" y="134" width="1" height="55" fill="#000"/>
<rect x="460" y="141" width="5" height="42" fill="#000"/>
<rect x="461" y="142" width="3" height="40" fill="#fff"/>
<rect x="470" y="136" width="1" height="57" fill="#000"/>
<rect x="468" y="141" width="5" height="14" fill="#000"/>
<rect x="478" y="131" width="1" height="38" fill="#000"/>
<rect x="476" y="153" width="5" height="1" fill="#000"/>
<rect x="486" y="138" width="1" height="24" fill="#000"/>
<rect x="484" y="154" width="5" height="7" fill="#000"/>
<rect x="494" y="154" width="1" height="18" fill="#000"/>
<rect x="492" y="159" width="5" height="10" fill="#000"/>
<rect x="502" y="132" width="1" height="49" fill="#000"/>
<rect x="500" y="144" width="5" height="25" fill="#000"/>
<rect x="501" y="145" width="3" height="23" fill="#fff"/>
<rect x="510" y="134" width="1" height="12" fill="#000"/>
<rect x="508" y="135" width="5" height="11" fill="#000"/>
<rect x="509" y="136" width="3" height="9" fill="#fff"/>
<rect x="518" y="103" width="1" height="39" fill="#000"/>
<rect x="516" y="136" width="5" height="2" fill="#000"/>
<rect x="526" y="134" width="1" height="40" fill="#000"/>
<rect x="524" y="137" width="5" height="30" fill="#000"/>
<rect x="534" y="155" width="1" height="26" fill="#000"/>
<rect x="532" y="157" width="5" height="10" fill="#000"/>
<rect x="533" y="158" width="3" height="8" fill="#fff"/>
<rect x="542" y="174" width="1" height="16" fill="#000"/>
<rect x="540" y="178" width="5" height="1" fill="#000"/>
<rect x="550" y="150" width="1" height="37" fill="#000"/>
<rect x="548" y="156" width="5" height="23" fill="#000"/>
<rect x="549" y="157" width="3" height="21" fill="#fff"/>
<rect x="558" y="142" width="1" height="18" fill="#000"/>
<rect x="556" y="150" width="5" height="7" fill="#000"/>
<rect x="557" y="151" width="3" height="5" fill="#fff"/>
<rect x="566" y="142" width="1" height="34" fill="#000"/>
<rect x="564" y="150" width="5" height="15" fill="#000"/>
<rect x="574" y="154" width="1" height="34" fill="#000"/>
<rect x="572" y="164" width="5" height="13" fill="#000"/>
<rect x="582" y="170" width="1" height="23" fill="#000"/>
<rect x="580" y="176" width="5" height="11" fill="#000"/>
<rect x="590" y="180" width="1" height="51" fill="#000"/>
<rect x="588" y="186" width="5" height="24" fill="#000"/>
<rect x="598" y="191" width="1" height="31" fill="#000"/>
<rect x="596" y="210" width="5" height="7" fill="#000"/>
<rect x="606" y="192" width="1" height="33" fill="#000"/>
<rect x="604" y="215" width="5" height="6" fill="#000"/>
<rect x="614" y="187" width="1" height="40" fill="#000"/>
<rect x="612" y="197" width="5" height="24" fill="#000"/>
<rect x="613" y="198" width="3" height="22" fill="#fff"/>
<rect x="622" y="159" width="1" height="48" fill="#000"/>
<rect x="620" y="170" width="5" height="28" fill="#000"/>
<rect x="621" y="171" width="3" height="26" fill="#fff"/>
<rect x="630" y="162" width="1" height="29" fill="#000"/>
<rect x="628" y="167" width="5" height="3" fill="#000"/>
<rect x="629" y="168" width="3" height="1" fill="#fff"/>
<rect x="638" y="161" width="1" height="22" fill="#000"/>
<rect x="636" y="167" width="5" height="1" fill="#000"/>
<rect x="646" y="159" width="1" height="16" fill="#000"/>
<rect x="644" y="167" width="5" height="4" fill="#000"/>
<rect x="654" y="151" width="1" height="25" fill="#000"/>
<rect x="652" y="154" width="5" height="17" fill="#000"/>
<rect x="653" y="155" width="3" height="15" fill="#fff"/>
<rect x="662" y="140" width="1" height="32" fill="#000"/>
<rect x="660" y="154" width="5" height="16" fill="#000"/>
<rect x="670" y="156" width="1" height="44" fill="#000"/>
<rect x="668" y="169" width="5" height="28" fill="#000"/>
<rect x="678" y="189" width="1" height="34" fill="#000"/>
<rect x="676" y="196" width="5" height="27" fill="#000"/>
<rect x="686" y="209" width="1" height="16" fill="#000"/>
<rect x="684" y="221" width="5" height="2" fill="#000"/>
<rect x="694" y="204" width="1" height="70" fill="#000"/>
<rect x="692" y="223" width="5" height="45" fill="#000"/>
<rect x="702" y="264" width="1" height="64" fill="#000"/>
<rect x="700" y="267" width="5" height="38" fill="#000"/>
<rect x="710" y="284" width="1" height="95" fill="#000"/>
<rect x="708" y="304" width="5" height="52" fill="#000"/>
<rect x="718" y="344" width="1" height="41" fill="#000"/>
<rect x="716" y="355" width="5" height="24" fill="#000"/>
<rect x="726" y="269" width="1" height="110" fill="#000"/>
<rect x="724" y="281" width="5" height="98" fill="#000"/>
<rect x="725" y="282" width="3" height="96" fill="#fff"/>
<rect x="734" y="271" width="1" height="39" fill="#000"/>
<rect x="732" y="282" width="5" height="21" fill="#000"/>
<rect x="742" y="285" width="1" height="26" fill="#000"/>
<rect x="740" y="289" width="5" height="15" fill="#000"/>
<rect x="741" y="290" width="3" height="13" fill="#fff"/>
<rect x="750" y="282" width="1" height="18" fill="#000"/>
<rect x="748" y="289" width="5" height="1" fill="#000"/>
<rect x="758" y="288" width="1" height="41" fill="#000"/>
<rect x="756" y="289" width="5" height="10" fill="#000"/>
<rect x="766" y="258" width="1" height="48" fill="#000"/>
<rect x="764" y="263" width="5" height="37" fill="#000"/>
<rect x="765" y="264" width="3" height="35" fill="#fff"/>
<rect x="774" y="254" width="1" height="22" fill="#000"/>
<rect x="772" y="263" width="5" height="3" fill="#000"/>
<rect x="782" y="293" width="1" height="49" fill="#000"/>
<rect x="780" y="300" width="5" height="33" fill="#000"/>
<rect x="781" y="301" width="3" height="31" fill="#fff"/>
<rect x="790" y="290" width="1" height="44" fill="#000"/>
<rect x="788" y="299" width="5" height="27" fill="#000"/>
<rect x="798" y="293" width="1" height="34" fill="#000"/>
<rect x="796" y="306" width="5" height="20" fill="#000"/>
<rect x="797" y="307" width="3" height="18" fill="#fff"/>
<rect x="806" y="268" width="1" height="50" fill="#000"/>
<rect x="804" y="285" width="5" height="22" fill="#000"/>
<rect x="805" y="286" width="3" height="20" fill="#fff"/>
<rect x="814" y="274" width="1" height="35" fill="#000"/>
<rect x="812" y="285" width="5" height="15" fill="#000"/>
<rect x="822" y="291" width="1" height="52" fill="#000"/>
<rect x="820" y="299" width="5" height="36" fill="#000"/>
<rect x="830" y="305" width="1" height="34" fill="#000"/>
<rect x="828" y="306" width="5" height="29" fill="#000"/>
<rect x="829" y="307" width="3" height="27" fill="#fff"/>
<rect x="838" y="290" width="1" height="27" fill="#000"/>
<rect x="836" y="305" width="5" height="8" fill="#000"/>
<rect x="846" y="299" width="1" height="20" fill="#000"/>
<rect x="844" y="310" width="5" height="3" fill="#000"/>
<rect x="845" y="311" width="3" height="1" fill="#fff"/>
<rect x="854" y="309" width="1" height="52" fill="#000"/>
<rect x="852" y="309" width="5" height="38" fill="#000"/>
<rect x="862" y="333" width="1" height="61" fill="#000"/>
<rect x="860" y="344" width="5" height="47" fill="#000"/>
<rect x="870" y="378" width="1" height="58" fill="#000"/>
<rect x="868" y="390" width="5" height="29" fill="#000"/>
<rect x="878" y="400" width="1" height="23" fill="#000"/>
<rect x="876" y="401" width="5" height="17" fill="#000"/>
<rect x="877" y="402" width="3" height="15" fill="#fff"/>
<rect x="886" y="379" width="1" height="35" fill="#000"/>
<rect x="884" y="396" width="5" height="6" fill="#000"/>
<rect x="885" y="397" width="3" height="4" fill="#fff"/>
<rect x="894" y="394" width="1" height="31" fill="#000"/>
<rect x="892" y="395" width="5" height="14" fill="#000"/>
<rect x="902" y="361" width="1" height="59" fill="#000"/>
<rect x="900" y="366" width="5" height="43" fill="#000"/>
<rect x="901" y="367" width="3" height="41" fill="#fff"/>
<rect x="910" y="330" width="1" height="45" fill="#000"/>
<rect x="908" y="350" width="5" height="15" fill="#000"/>
<rect x="909" y="351" width="3" height="13" fill="#fff"/>
<rect x="918" y="288" width="1" height="62" fill="#000"/>
<rect x="916" y="297" width="5" height="53" fill="#000"/>
<rect x="917" y="298" width="3" height="51" fill="#fff"/>
<rect x="926" y="273" width="1" height="30" fill="#000"/>
<rect x="924" y="285" width="5" height="13" fill="#000"/>
<rect x="925" y="286" width="3" height="11" fill="#fff"/>
<rect x="934" y="269" width="1" height="25" fill="#000"/>
<rect x="932" y="277" width="5" height="9" fill="#000"/>
<rect x="933" y="278" width="3" height="7" fill="#fff"/>
<rect x="942" y="251" width="1" height="27" fill="#000"/>
<rect x="940" y="270" width="5" height="8" fill="#000"/>
<rect x="941" y="271" width="3" height="6" fill="#fff"/>
<rect x="950" y="258" width="1" height="35" fill="#000"/>
<rect x="948" y="270" width="5" height="14" fill="#000"/>
<rect x="958" y="271" width="1" height="55" fill="#000"/>
<rect x="956" y="283" width="5" height="38" fill="#000"/>
<rect x="966" y="314" width="1" height="32" fill="#000"/>
<rect x="964" y="321" width="5" height="25" fill="#000"/>
<rect x="974" y="326" width="1" height="23" fill="#000"/>
<rect x="972" y="327" width="5" height="19" fill="#000"/>
<rect x="973" y="328" width="3" height="17" fill="#fff"/>
<rect x="982" y="323" width="1" height="48" fill="#000"/>
<rect x="980" y="327" width="5" height="25" fill="#000"/>
<rect x="990" y="328" width="1" height="31" fill="#000"/>
<rect x="988" y="350" width="5" height="3" fill="#000"/>
<rect x="998" y="351" width="1" height="42" fill="#000"/>
<rect x="996" y="352" width="5" height="38" fill="#000"/>
<rect x="1006" y="388" width="1" height="119" fill="#000"/>
<rect x="1004" y="389" width="5" height="110" fill="#000"/>
<rect x="1014" y="481" width="1" height="40" fill="#000"/>
<rect x="1012" y="498" width="5" height="7" fill="#000"/>
<rect x="1022" y="474" width="1" height="38" fill="#000"/>
<rect x="1020" y="482" width="5" height="11" fill="#000"/>
<rect x="1030" y="484" width="1" height="37" fill="#000"/>
<rect x="1028" y="491" width="5" height="10" fill="#000"/>
<rect x="1038" y="466" width="1" height="39" fill="#000"/>
<rect x="1036" y="495" width="5" height="6" fill="#000"/>
<rect x="1037" y="496" width="3" height="4" fill="#fff"/>
<rect x="1046" y="485" width="1" height="58" fill="#000"/>
<rect x="1044" y="494" width="5" height="21" fill="#000"/>
<rect x="1054" y="468" width="1" height="66" fill="#000"/>
<rect x="1052" y="514" width="5" height="1" fill="#000"/>
<rect x="1062" y="508" width="1" height="44" fill="#000"/>
<rect x="1060" y="514" width="5" height="34" fill="#000"/>
<rect x="1070" y="533" width="1" height="22" fill="#000"/>
<rect x="1068" y="534" width="5" height="14" fill="#000"/>
<rect x="1069" y="535" width="3" height="12" fill="#fff"/>
<rect x="1078" y="512" width="1" height="29" fill="#000"/>
<rect x="1076" y="516" width="5" height="18" fill="#000"/>
<rect x="1077" y="517" width="3" height="16" fill="#fff"/>
<rect x="1086" y="514" width="1" height="43" fill="#000"/>
<rect x="1084" y="516" width="5" height="29" fill="#000"/>
<rect x="1094" y="496" width="1" height="55" fill="#000"/>
<rect x="1092" y="504" width="5" height="41" fill="#000"/>
<rect x="1093" y="505" width="3" height="39" fill="#fff"/>
<rect x="1102" y="490" width="1" height="34" fill="#000"/>
<rect x="1100" y="504" width="5" height="12" fill="#000"/>
<rect x="1110" y="481" width="1" height="45" fill="#000"/>
<rect x="1108" y="503" width="5" height="12" fill="#000"/>
<rect x="1109" y="504" width="3" height="10" fill="#fff"/>
<rect x="1118" y="499" width="1" height="27" fill="#000"/>
<rect x="1116" y="503" width="5" height="10" fill="#000"/>
<rect x="1126" y="480" width="1" height="33" fill="#000"/>
<rect x="1124" y="495" width="5" height="18" fill="#000"/>
<rect x="1125" y="496" width="3" height="16" fill="#fff"/>
<rect x="1134" y="482" width="1" height="16" fill="#000"/>
<rect x="1132" y="488" width="5" height="8" fill="#000"/>
<rect x="1133" y="489" width="3" height="6" fill="#fff"/>
<rect x="1142" y="430" width="1" height="65" fill="#000"/>
<rect x="1140" y="450" width="5" height="38" fill="#000"/>
<rect x="1141" y="451" width="3" height="36" fill="#fff"/>
<rect x="1150" y="445" width="1" height="29" fill="#000"/>
<rect x="1148" y="451" width="5" height="5" fill="#000"/>
<rect x="1158" y="429" width="1" height="32" fill="#000"/>
<rect x="1156" y="433" width="5" height="23" fill="#000"/>
<rect x="1157" y="434" width="3" height="21" fill="#fff"/>
<rect x="1166" y="421" width="1" height="25" fill="#000"/>
<rect x="1164" y="423" width="5" height="10" fill="#000"/>
<rect x="1165" y="424" width="3" height="8" fill="#fff"/>
<rect x="1174" y="413" width="1" height="32" fill="#000"/>
<rect x="1172" y="414" width="5" height="10" fill="#000"/>
<rect x="1173" y="415" width="3" height="8" fill="#fff"/>
<rect x="1182" y="411" width="1" height="16" fill="#000"/>
<rect x="1180" y="415" width="5" height="1" fill="#000"/>
<rect x="1190" y="414" width="1" height="48" fill="#000"/>
<rect x="1188" y="414" width="5" height="28" fill="#000"/>
<rect x="1198" y="412" width="1" height="60" fill="#000"/>
<rect x="1196" y="442" width="5" height="22" fill="#000"/>
<rect x="1206" y="462" width="1" height="21" fill="#000"/>
<rect x="1204" y="463" width="5" height="16" fill="#000"/>
<rect x="1214" y="463" width="1" height="29" fill="#000"/>
<rect x="1212" y="466" width="5" height="13" fill="#000"/>
<rect x="1213" y="467" width="3" height="11" fill="#fff"/>
<rect x="1222" y="448" width="1" height="34" fill="#000"/>
<rect x="1220" y="450" width="5" height="17" fill="#000"/>
<rect x="1221" y="451" width="3" height="15" fill="#fff"/>
<rect x="1230" y="412" width="1" height="39" fill="#000"/>
<rect x="1228" y="441" width="5" height="10" fill="#000"/>
<rect x="1229" y="442" width="3" height="8" fill="#fff"/>
<rect x="1238" y="388" width="1" height="54" fill="#000"/>
<rect x="1236" y="395" width="5" height="47" fill="#000"/>
<rect x="1237" y="396" width="3" height="45" fill="#fff"/>
<rect x="1246" y="382" width="1" height="44" fill="#000"/>
<rect x="1244" y="395" width="5" height="10" fill="#000"/>
<rect x="1254" y="400" width="1" height="24" fill="#000"/>
<rect x="1252" y="404" width="5" height="7" fill="#000"/>
<rect x="1262" y="378" width="1" height="19" fill="#000"/>
<rect x="1260" y="384" width="5" height="11" fill="#000"/>
<rect x="1261" y="385" width="3" height="9" fill="#fff"/>
<rect x="1270" y="378" width="1" height="17" fill="#000"/>
<rect x="1268" y="384" width="5" height="4" fill="#000"/>
<rect x="1278" y="371" width="1" height="28" fill="#000"/>
<rect x="1276" y="374" width="5" height="14" fill="#000"/>
<rect x="1277" y="375" width="3" height="12" fill="#fff"/>
<rect x="1286" y="342" width="1" height="33" fill="#000"/>
<rect x="1284" y="367" width="5" height="8" fill="#000"/>
<rect x="1285" y="368" width="3" height="6" fill="#fff"/>
<rect x="1294" y="325" width="1" height="43" fill="#000"/>
<rect x="1292" y="343" width="5" height="25" fill="#000"/>
<rect x="1293" y="344" width="3" height="23" fill="#fff"/>
<rect x="1302" y="329" width="1" height="40" fill="#000"/>
<rect x="1300" y="343" width="5" height="21" fill="#000"/>
<rect x="1310" y="348" width="1" height="19" fill="#000"/>
<rect x="1308" y="353" width="5" height="10" fill="#000"/>
<rect x="1309" y="354" width="3" height="8" fill="#fff"/>
<rect x="1318" y="311" width="1" height="48" fill="#000"/>
<rect x="1316" y="312" width="5" height="42" fill="#000"/>
<rect x="1317" y="313" width="3" height="40" fill="#fff"/>
<rect x="1326" y="303" width="1" height="69" fill="#000"/>
<rect x="1324" y="312" width="5" height="46" fill="#000"/>
<rect x="1334" y="329" width="1" height="66" fill="#000"/>
<rect x="1332" y="348" width="5" height="10" fill="#000"/>
<rect x="1333" y="349" width="3" height="8" fill="#fff"/>
<rect x="1342" y="289" width="1" height="63" fill="#000"/>
<rect x="1340" y="307" width="5" height="43" fill="#000"/>
<rect x="1341" y="308" width="3" height="41" fill="#fff"/>
<rect x="1350" y="302" width="1" height="30" fill="#000"/>
<rect x="1348" y="307" width="5" height="8" fill="#000"/>
<rect x="1358" y="312" width="1" height="13" fill="#000"/>
<rect x="1356" y="314" width="5" height="3" fill="#000"/>
<rect x="1366" y="307" width="1" height="13" fill="#000"/>
<rect x="1364" y="316" width="5" height="1" fill="#000"/>
<rect x="1374" y="305" width="1" height="17" fill="#000"/>
<rect x="1372" y="314" width="5" height="3" fill="#000"/>
<rect x="1373" y="315" width="3" height="1" fill="#fff"/>
<rect x="1382" y="274" width="1" height="44" fill="#000"/>
<rect x="1380" y="280" width="5" height="35" fill="#000"/>
<rect x="1381" y="281" width="3" height="33" fill="#fff"/>
<rect x="1390" y="242" width="1" height="52" fill="#000"/>
<rect x="1388" y="255" width="5" height="26" fill="#000"/>
<rect x="1389" y="256" width="3" height="24" fill="#fff"/>
<rect x="1398" y="190" width="1" height="69" fill="#000"/>
<rect x="1396" y="195" width="5" height="61" fill="#000"/>
<rect x="1397" y="196" width="3" height="59" fill="#fff"/>
<rect x="1406" y="185" width="1" height="17" fill="#000"/>
<rect x="1404" y="195" width="5" height="1" fill="#000"/>
</g>
<text x="5" y="32" font-size="9.2" fill="#000" textLength="200" lengthAdjust="spacingAndGlyphs">GBPJPY-,H4&#160;&#160;155.993 156.123 155.900 155.991</text>
<g shape-rendering="crispEdges">
<rect x="-2" y="621" width="1" height="32" fill="#c0c0c0"/>
<rect x="6" y="617" width="1" height="36" fill="#c0c0c0"/>
<rect x="14" y="613" width="1" height="40" fill="#c0c0c0"/>
<rect x="22" y="610" width="1" height="43" fill="#c0c0c0"/>
<rect x="30" y="608" width="1" height="45" fill="#c0c0c0"/>
<rect x="38" y="611" width="1" height="42" fill="#c0c0c0"/>
<rect x="46" y="613" width="1" height="40" fill="#c0c0c0"/>
<rect x="54" y="616" width="1" height="37" fill="#c0c0c0"/>
<rect x="62" y="618" width="1" height="35" fill="#c0c0c0"/>
<rect x="70" y="620" width="1" height="33" fill="#c0c0c0"/>
<rect x="78" y="621" width="1" height="32" fill="#c0c0c0"/>
<rect x="86" y="629" width="1" height="24" fill="#c0c0c0"/>
<rect x="94" y="632" width="1" height="21" fill="#c0c0c0"/>
<rect x="102" y="634" width="1" height="19" fill="#c0c0c0"/>
<rect x="110" y="635" width="1" height="18" fill="#c0c0c0"/>
<rect x="118" y="634" width="1" height="19" fill="#c0c0c0"/>
<rect x="126" y="633" width="1" height="20" fill="#c0c0c0"/>
<rect x="134" y="632" width="1" height="21" fill="#c0c0c0"/>
<rect x="142" y="627" width="1" height="26" fill="#c0c0c0"/>
<rect x="150" y="626" width="1" height="27" fill="#c0c0c0"/>
<rect x="158" y="625" width="1" height="28" fill="#c0c0c0"/>
<rect x="166" y="624" width="1" height="29" fill="#c0c0c0"/>
<rect x="174" y="625" width="1" height="28" fill="#c0c0c0"/>
<rect x="182" y="623" width="1" height="30" fill="#c0c0c0"/>
<rect x="190" y="625" width="1" height="28" fill="#c0c0c0"/>
<rect x="198" y="627" width="1" height="26" fill="#c0c0c0"/>
<rect x="206" y="628" width="1" height="25" fill="#c0c0c0"/>
<rect x="214" y="630" width="1" height="23" fill="#c0c0c0"/>
<rect x="222" y="630" width="1" height="23" fill="#c0c0c0"/>
<rect x="230" y="625" width="1" height="28" fill="#c0c0c0"/>
<rect x="238" y="616" width="1" height="37" fill="#c0c0c0"/>
<rect x="246" y="614" width="1" height="39" fill="#c0c0c0"/>
<rect x="254" y="613" width="1" height="40" fill="#c0c0c0"/>
<rect x="262" y="613" width="1" height="40" fill="#c0c0c0"/>
<rect x="270" y="615" width="1" height="38" fill="#c0c0c0"/>
<rect x="278" y="615" width="1" height="38" fill="#c0c0c0"/>
<rect x="286" y="613" width="1" height="40" fill="#c0c0c0"/>
<rect x="294" y="623" width="1" height="30" fill="#c0c0c0"/>
<rect x="302" y="626" width="1" height="27" fill="#c0c0c0"/>
<rect x="310" y="633" width="1" height="20" fill="#c0c0c0"/>
<rect x="318" y="640" width="1" height="13" fill="#c0c0c0"/>
<rect x="326" y="650" width="1" height="3" fill="#c0c0c0"/>
<rect x="334" y="652" width="1" height="1" fill="#c0c0c0"/>
<rect x="342" y="652" width="1" height="2" fill="#c0c0c0"/>
<rect x="350" y="652" width="1" height="4" fill="#c0c0c0"/>
<rect x="358" y="652" width="1" height="5" fill="#c0c0c0"/>
<rect x="366" y="652" width="1" height="8" fill="#c0c0c0"/>
<rect x="374" y="652" width="1" height="6" fill="#c0c0c0"/>
<rect x="382" y="652" width="1" height="5" fill="#c0c0c0"/>
<rect x="390" y="652" width="1" height="4" fill="#c0c0c0"/>
<rect x="398" y="652" width="1" height="2" fill="#c0c0c0"/>
<rect x="406" y="652" width="1" height="1" fill="#c0c0c0"/>
<rect x="414" y="650" width="1" height="3" fill="#c0c0c0"/>
<rect x="422" y="648" width="1" height="5" fill="#c0c0c0"/>
<rect x="430" y="647" width="1" height="6" fill="#c0c0c0"/>
<rect x="438" y="645" width="1" height="8" fill="#c0c0c0"/>
<rect x="446" y="645" width="1" height="8" fill="#c0c0c0"/>
<rect x="454" y="649" width="1" height="4" fill="#c0c0c0"/>
<rect x="462" y="648" width="1" height="5" fill="#c0c0c0"/>
<rect x="470" y="649" width="1" height="4" fill="#c0c0c0"/>
<rect x="478" y="649" width="1" height="4" fill="#c0c0c0"/>
<rect x="486" y="651" width="1" height="2" fill="#c0c0c0"/>
<rect x="494" y="652" width="1" height="1" fill="#c0c0c0"/>
<rect x="502" y="651" width="1" height="2" fill="#c0c0c0"/>
<rect x="510" y="649" width="1" height="4" fill="#c0c0c0"/>
<rect x="518" y="648" width="1" height="5" fill="#c0c0c0"/>
<rect x="526" y="650" width="1" height="3" fill="#c0c0c0"/>
<rect x="534" y="651" width="1" height="2" fill="#c0c0c0"/>
<rect x="542" y="652" width="1" height="2" fill="#c0c0c0"/>
<rect x="550" y="652" width="1" height="2" fill="#c0c0c0"/>
<rect x="558" y="652" width="1" height="1" fill="#c0c0c0"/>
<rect x="566" y="652" width="1" height="2" fill="#c0c0c0"/>
<rect x="574" y="652" width="1" height="5" fill="#c0c0c0"/>
<rect x="582" y="652" width="1" height="7" fill="#c0c0c0"/>
<rect x="590" y="652" width="1" height="12" fill="#c0c0c0"/>
<rect x="598" y="652" width="1" height="17" fill="#c0c0c0"/>
<rect x="606" y="652" width="1" height="20" fill="#c0c0c0"/>
<rect x="614" y="652" width="1" height="20" fill="#c0c0c0"/>
<rect x="622" y="652" width="1" height="17" fill="#c0c0c0"/>
<rect x="630" y="652" width="1" height="14" fill="#c0c0c0"/>
<rect x="638" y="652" width="1" height="11" fill="#c0c0c0"/>
<rect x="646" y="652" width="1" height="9" fill="#c0c0c0"/>
<rect x="654" y="652" width="1" height="6" fill="#c0c0c0"/>
<rect x="662" y="652" width="1" height="5" fill="#c0c0c0"/>
<rect x="670" y="652" width="1" height="8" fill="#c0c0c0"/>
<rect x="678" y="652" width="1" height="12" fill="#c0c0c0"/>
<rect x="686" y="652" width="1" height="16" fill="#c0c0c0"/>
<rect x="694" y="652" width="1" height="24" fill="#c0c0c0"/>
<rect x="702" y="652" width="1" height="34" fill="#c0c0c0"/>
<rect x="710" y="652" width="1" height="47" fill="#c0c0c0"/>
<rect x="718" y="652" width="1" height="60" fill="#c0c0c0"/>
<rect x="726" y="652" width="1" height="58" fill="#c0c0c0"/>
<rect x="734" y="652" width="1" height="58" fill="#c0c0c0"/>
<rect x="742" y="652" width="1" height="56" fill="#c0c0c0"/>
<rect x="750" y="652" width="1" height="54" fill="#c0c0c0"/>
<rect x="758" y="652" width="1" height="53" fill="#c0c0c0"/>
<rect x="766" y="652" width="1" height="47" fill="#c0c0c0"/>
<rect x="774" y="652" width="1" height="42" fill="#c0c0c0"/>
<rect x="782" y="652" width="1" height="42" fill="#c0c0c0"/>
<rect x="790" y="652" width="1" height="44" fill="#c0c0c0"/>
<rect x="798" y="652" width="1" height="44" fill="#c0c0c0"/>
<rect x="806" y="652" width="1" height="40" fill="#c0c0c0"/>
<rect x="814" y="652" width="1" height="38" fill="#c0c0c0"/>
<rect x="822" y="652" width="1" height="41" fill="#c0c0c0"/>
<rect x="830" y="652" width="1" height="39" fill="#c0c0c0"/>
<rect x="838" y="652" width="1" height="38" fill="#c0c0c0"/>
<rect x="846" y="652" width="1" height="36" fill="#c0c0c0"/>
<rect x="854" y="652" width="1" height="38" fill="#c0c0c0"/>
<rect x="862" y="652" width="1" height="45" fill="#c0c0c0"/>
<rect x="870" y="652" width="1" height="53" fill="#c0c0c0"/>
<rect x="878" y="652" width="1" height="56" fill="#c0c0c0"/>
<rect x="886" y="652" width="1" height="58" fill="#c0c0c0"/>
<rect x="894" y="652" width="1" height="60" fill="#c0c0c0"/>
<rect x="902" y="652" width="1" height="56" fill="#c0c0c0"/>
<rect x="910" y="652" width="1" height="51" fill="#c0c0c0"/>
<rect x="918" y="652" width="1" height="40" fill="#c0c0c0"/>
<rect x="926" y="652" width="1" height="29" fill="#c0c0c0"/>
<rect x="934" y="652" width="1" height="20" fill="#c0c0c0"/>
<rect x="942" y="652" width="1" height="11" fill="#c0c0c0"/>
<rect x="950" y="652" width="1" height="6" fill="#c0c0c0"/>
<rect x="958" y="652" width="1" height="6" fill="#c0c0c0"/>
<rect x="966" y="652" width="1" height="9" fill="#c0c0c0"/>
<rect x="974" y="652" width="1" height="9" fill="#c0c0c0"/>
<rect x="982" y="652" width="1" height="12" fill="#c0c0c0"/>
<rect x="990" y="652" width="1" height="14" fill="#c0c0c0"/>
<rect x="998" y="652" width="1" height="20" fill="#c0c0c0"/>
<rect x="1006" y="652" width="1" height="37" fill="#c0c0c0"/>
<rect x="1014" y="652" width="1" height="50" fill="#c0c0c0"/>
<rect x="1022" y="652" width="1" height="59" fill="#c0c0c0"/>
<rect x="1030" y="652" width="1" height="66" fill="#c0c0c0"/>
<rect x="1038" y="652" width="1" height="70" fill="#c0c0c0"/>
<rect x="1046" y="652" width="1" height="75" fill="#c0c0c0"/>
<rect x="1054" y="652" width="1" height="77" fill="#c0c0c0"/>
<rect x="1062" y="652" width="1" height="82" fill="#c0c0c0"/>
<rect x="1070" y="652" width="1" height="84" fill="#c0c0c0"/>
<rect x="1078" y="652" width="1" height="82" fill="#c0c0c0"/>
<rect x="1086" y="652" width="1" height="83" fill="#c0c0c0"/>
<rect x="1094" y="652" width="1" height="78" fill="#c0c0c0"/>
<rect x="1102" y="652" width="1" height="75" fill="#c0c0c0"/>
<rect x="1110" y="652" width="1" height="70" fill="#c0c0c0"/>
<rect x="1118" y="652" width="1" height="67" fill="#c0c0c0"/>
<rect x="1126" y="652" width="1" height="61" fill="#c0c0c0"/>
<rect x="1134" y="652" width="1" height="55" fill="#c0c0c0"/>
<rect x="1142" y="652" width="1" height="46" fill="#c0c0c0"/>
<rect x="1150" y="652" width="1" height="38" fill="#c0c0c0"/>
<rect x="1158" y="652" width="1" height="29" fill="#c0c0c0"/>
<rect x="1166" y="652" width="1" height="21" fill="#c0c0c0"/>
<rect x="1174" y="652" width="1" height="13" fill="#c0c0c0"/>
<rect x="1182" y="652" width="1" height="7" fill="#c0c0c0"/>
<rect x="1190" y="652" width="1" height="5" fill="#c0c0c0"/>
<rect x="1198" y="652" width="1" height="6" fill="#c0c0c0"/>
<rect x="1206" y="652" width="1" height="9" fill="#c0c0c0"/>
<rect x="1214" y="652" width="1" height="9" fill="#c0c0c0"/>
<rect x="1222" y="652" width="1" height="8" fill="#c0c0c0"/>
<rect x="1230" y="652" width="1" height="5" fill="#c0c0c0"/>
<rect x="1238" y="650" width="1" height="3" fill="#c0c0c0"/>
<rect x="1246" y="646" width="1" height="7" fill="#c0c0c0"/>
<rect x="1254" y="643" width="1" height="10" fill="#c0c0c0"/>
<rect x="1262" y="638" width="1" height="15" fill="#c0c0c0"/>
<rect x="1270" y="635" width="1" height="18" fill="#c0c0c0"/>
<rect x="1278" y="631" width="1" height="22" fill="#c0c0c0"/>
<rect x="1286" y="627" width="1" height="26" fill="#c0c0c0"/>
<rect x="1294" y="622" width="1" height="31" fill="#c0c0c0"/>
<rect x="1302" y="620" width="1" height="33" fill="#c0c0c0"/>
<rect x="1310" y="618" width="1" height="35" fill="#c0c0c0"/>
<rect x="1318" y="612" width="1" height="41" fill="#c0c0c0"/>
<rect x="1326" y="613" width="1" height="40" fill="#c0c0c0"/>
<rect x="1334" y="614" width="1" height="39" fill="#c0c0c0"/>
<rect x="1342" y="609" width="1" height="44" fill="#c0c0c0"/>
<rect x="1350" y="608" width="1" height="45" fill="#c0c0c0"/>
<rect x="1358" y="607" width="1" height="46" fill="#c0c0c0"/>
<rect x="1366" y="607" width="1" height="46" fill="#c0c0c0"/>
<rect x="1374" y="607" width="1" height="46" fill="#c0c0c0"/>
<rect x="1382" y="604" width="1" height="49" fill="#c0c0c0"/>
<rect x="1390" y="599" width="1" height="54" fill="#c0c0c0"/>
<rect x="1398" y="589" width="1" height="64" fill="#c0c0c0"/>
<rect x="1406" y="582" width="1" height="71" fill="#c0c0c0"/>
</g>
<polyline points="-1.5,630.8 6.5,628.5 14.5,626.6 22.5,624.2 30.5,622.3 38.5,620.2 46.5,616.5 54.5,614.7 62.5,614.2 70.5,614.1 78.5,614.6 86.5,616.4 94.5,618.8 102.5,621.6 110.5,624.3 118.5,626.6 126.5,628.4 134.5,629.9 142.5,630.7 150.5,631.2 158.5,630.7 166.5,629.9 174.5,629.0 182.5,627.7 190.5,626.7 198.5,626.1 206.5,625.7 214.5,626.0 222.5,626.4 230.5,626.5 238.5,625.5 246.5,624.3 254.5,623.2 262.5,621.9 270.5,620.5 278.5,619.0 286.5,617.1 294.5,616.4 302.5,616.5 310.5,618.5 318.5,621.3 326.5,625.4 334.5,629.8 342.5,634.2 350.5,638.7 358.5,643.7 366.5,647.7 374.5,651.2 382.5,653.8 390.5,655.6 398.5,656.1 406.5,656.0 414.5,655.6 422.5,654.7 430.5,653.6 438.5,651.9 446.5,650.5 454.5,649.7 462.5,648.9 470.5,648.3 478.5,647.9 486.5,648.0 494.5,648.5 502.5,649.0 510.5,649.5 518.5,649.8 526.5,649.9 534.5,650.3 542.5,650.9 550.5,651.4 558.5,651.7 566.5,651.9 574.5,652.4 582.5,653.6 590.5,655.3 598.5,657.4 606.5,659.7 614.5,661.7 622.5,663.3 630.5,664.7 638.5,665.7 646.5,666.2 654.5,666.1 662.5,665.3 670.5,664.3 678.5,663.4 686.5,662.9 694.5,663.7 702.5,665.9 710.5,669.9 718.5,675.4 726.5,681.2 734.5,687.0 742.5,692.4 750.5,697.0 758.5,701.1 766.5,703.7 774.5,704.7 782.5,704.1 790.5,702.4 798.5,700.8 806.5,698.9 814.5,696.9 822.5,695.5 830.5,693.9 838.5,692.9 846.5,692.2 854.5,691.8 862.5,691.8 870.5,692.9 878.5,694.7 886.5,696.9 894.5,699.0 902.5,700.9 910.5,702.4 918.5,702.8 926.5,701.7 934.5,698.9 942.5,694.3 950.5,688.7 958.5,683.0 966.5,677.4 974.5,672.2 982.5,667.9 990.5,665.1 998.5,664.1 1006.5,666.0 1014.5,670.3 1022.5,676.2 1030.5,682.8 1038.5,689.5 1046.5,696.8 1054.5,704.0 1062.5,711.6 1070.5,718.7 1078.5,723.7 1086.5,727.4 1094.5,729.5 1102.5,730.5 1110.5,730.5 1118.5,729.7 1126.5,727.8 1134.5,724.8 1142.5,720.5 1150.5,715.7 1158.5,709.7 1166.5,703.3 1174.5,696.5 1182.5,689.5 1190.5,682.7 1198.5,676.7 1206.5,671.6 1214.5,667.5 1222.5,664.1 1230.5,661.5 1238.5,658.9 1246.5,656.7 1254.5,654.9 1262.5,652.8 1270.5,650.1 1278.5,646.8 1286.5,642.9 1294.5,638.7 1302.5,634.5 1310.5,630.9 1318.5,627.2 1326.5,623.9 1334.5,621.2 1342.5,618.4 1350.5,615.8 1358.5,613.6 1366.5,612.0 1374.5,610.6 1382.5,609.0 1390.5,607.6 1398.5,604.9 1406.5,601.4" fill="none" stroke="#ff0000" stroke-width="1" stroke-dasharray="3 3" clip-path="url(#cMacd)" shape-rendering="crispEdges"/>
<text x="-5.5" y="584" font-size="9.8" fill="#000" textLength="127.5" lengthAdjust="spacingAndGlyphs">MACD(12,26,9) 0.6897 0.5017</text>
<text x="1653" y="582" font-size="9" fill="#000">0.7645</text>
<rect x="1650" y="573" width="2" height="1" fill="#000"/>
<rect x="1650" y="652" width="2" height="1" fill="#000"/>
<text x="1653" y="656" font-size="9" fill="#000">0.00</text>
<text x="1653" y="742" font-size="9" fill="#000">-0.8821</text>
<rect x="1650" y="744" width="2" height="1" fill="#000"/>
<line x1="0" y1="783.5" x2="1649" y2="783.5" stroke="#c0c0c0" stroke-width="1" stroke-dasharray="3 3" stroke-dashoffset="3" shape-rendering="crispEdges"/>
<line x1="0" y1="834.5" x2="1649" y2="834.5" stroke="#c0c0c0" stroke-width="1" stroke-dasharray="3 3" stroke-dashoffset="3" shape-rendering="crispEdges"/>
<line x1="0" y1="895.5" x2="1649" y2="895.5" stroke="#c0c0c0" stroke-width="1" stroke-dasharray="3 3" stroke-dashoffset="3" shape-rendering="crispEdges"/>
<polyline points="-1.5,797.2 6.5,802.9 14.5,800.6 22.5,799.3 30.5,802.2 38.5,819.3 46.5,817.8 54.5,819.0 62.5,819.0 70.5,818.8 78.5,814.0 86.5,843.5 94.5,831.9 102.5,829.0 110.5,830.0 118.5,819.7 126.5,818.3 134.5,817.2 142.5,806.6 150.5,814.7 158.5,813.5 166.5,815.5 174.5,818.5 182.5,809.8 190.5,823.1 198.5,826.7 206.5,822.4 214.5,825.7 222.5,818.5 230.5,805.4 238.5,793.7 246.5,812.3 254.5,815.0 262.5,815.0 270.5,821.6 278.5,815.0 286.5,809.3 294.5,844.9 302.5,831.7 310.5,840.5 318.5,842.1 326.5,851.3 334.5,840.9 342.5,837.6 350.5,838.1 358.5,839.7 366.5,842.8 374.5,832.4 382.5,834.5 390.5,834.1 398.5,832.6 406.5,830.8 414.5,827.5 422.5,826.6 430.5,828.8 438.5,824.1 446.5,831.2 454.5,845.1 462.5,830.3 470.5,835.0 478.5,834.5 486.5,837.3 494.5,840.3 502.5,830.7 510.5,827.5 518.5,828.5 526.5,840.5 534.5,836.5 542.5,844.3 550.5,835.3 558.5,833.0 566.5,838.9 574.5,843.5 582.5,847.2 590.5,855.0 598.5,857.2 606.5,858.5 614.5,846.1 622.5,833.9 630.5,832.9 638.5,833.0 646.5,834.6 654.5,827.0 662.5,834.8 670.5,846.4 678.5,855.4 686.5,855.5 694.5,868.6 702.5,876.4 710.5,884.5 718.5,887.4 726.5,850.2 734.5,854.5 742.5,850.4 750.5,850.4 758.5,852.5 766.5,841.1 774.5,841.8 782.5,850.4 790.5,856.2 798.5,849.6 806.5,842.8 814.5,846.6 822.5,854.8 830.5,845.2 838.5,847.0 846.5,845.9 854.5,855.0 862.5,864.0 870.5,868.8 878.5,862.4 886.5,860.4 894.5,862.9 902.5,848.0 910.5,842.9 918.5,828.4 926.5,825.5 934.5,823.5 942.5,821.7 950.5,826.5 958.5,837.8 966.5,844.5 974.5,838.9 982.5,845.3 990.5,845.6 998.5,854.7 1006.5,873.3 1014.5,874.1 1022.5,869.7 1030.5,871.0 1038.5,868.7 1046.5,872.0 1054.5,871.7 1062.5,877.1 1070.5,871.5 1078.5,864.0 1086.5,869.4 1094.5,854.3 1102.5,856.8 1110.5,852.3 1118.5,854.6 1126.5,847.9 1134.5,845.3 1142.5,833.0 1150.5,834.6 1158.5,827.6 1166.5,824.8 1174.5,822.2 1182.5,822.3 1190.5,833.1 1198.5,840.7 1206.5,845.6 1214.5,840.6 1222.5,834.6 1230.5,831.4 1238.5,817.1 1246.5,820.9 1254.5,823.4 1262.5,815.5 1270.5,817.2 1278.5,813.2 1286.5,811.2 1294.5,804.7 1302.5,814.7 1310.5,811.9 1318.5,801.8 1326.5,821.0 1334.5,818.6 1342.5,808.8 1350.5,811.8 1358.5,812.6 1366.5,812.5 1374.5,812.0 1382.5,803.2 1390.5,797.9 1398.5,787.9 1406.5,787.9" fill="none" stroke="#1e90ff" stroke-width="1" clip-path="url(#cRsi)" shape-rendering="crispEdges"/>
<text x="-6.5" y="760" font-size="9.8" fill="#000" textLength="68.5" lengthAdjust="spacingAndGlyphs">RSI(14) 77.4841</text>
<rect x="1650" y="749" width="2" height="1" fill="#000"/>
<text x="1653" y="758" font-size="9" fill="#000">100</text>
<text x="1652" y="787" font-size="9" fill="#000">80</text>
<text x="1652" y="838" font-size="9" fill="#000">50</text>
<text x="1652" y="899" font-size="9" fill="#000">15</text>
<text x="1653" y="918" font-size="9" fill="#000">0</text>
<text x="-11" y="933.5" font-size="9.25" fill="#000">3 Feb 2022</text>
<rect x="54" y="922" width="1" height="3" fill="#000"/>
<text x="53" y="933.5" font-size="9.25" fill="#000">4 Feb 16:00</text>
<rect x="118" y="922" width="1" height="3" fill="#000"/>
<text x="117" y="933.5" font-size="9.25" fill="#000">8 Feb 00:00</text>
<rect x="182" y="922" width="1" height="3" fill="#000"/>
<text x="181" y="933.5" font-size="9.25" fill="#000">9 Feb 08:00</text>
<rect x="246" y="922" width="1" height="3" fill="#000"/>
<text x="245" y="933.5" font-size="9.25" fill="#000">10 Feb 16:00</text>
<rect x="310" y="922" width="1" height="3" fill="#000"/>
<text x="309" y="933.5" font-size="9.25" fill="#000">14 Feb 00:00</text>
<rect x="374" y="922" width="1" height="3" fill="#000"/>
<text x="373" y="933.5" font-size="9.25" fill="#000">15 Feb 08:00</text>
<rect x="438" y="922" width="1" height="3" fill="#000"/>
<text x="437" y="933.5" font-size="9.25" fill="#000">16 Feb 16:00</text>
<rect x="502" y="922" width="1" height="3" fill="#000"/>
<text x="501" y="933.5" font-size="9.25" fill="#000">18 Feb 00:00</text>
<rect x="566" y="922" width="1" height="3" fill="#000"/>
<text x="565" y="933.5" font-size="9.25" fill="#000">21 Feb 08:00</text>
<rect x="630" y="922" width="1" height="3" fill="#000"/>
<text x="629" y="933.5" font-size="9.25" fill="#000">22 Feb 16:00</text>
<rect x="694" y="922" width="1" height="3" fill="#000"/>
<text x="693" y="933.5" font-size="9.25" fill="#000">24 Feb 00:00</text>
<rect x="758" y="922" width="1" height="3" fill="#000"/>
<text x="757" y="933.5" font-size="9.25" fill="#000">25 Feb 08:00</text>
<rect x="822" y="922" width="1" height="3" fill="#000"/>
<text x="821" y="933.5" font-size="9.25" fill="#000">28 Feb 16:00</text>
<rect x="886" y="922" width="1" height="3" fill="#000"/>
<text x="885" y="933.5" font-size="9.25" fill="#000">2 Mar 00:00</text>
<rect x="950" y="922" width="1" height="3" fill="#000"/>
<text x="949" y="933.5" font-size="9.25" fill="#000">3 Mar 08:00</text>
<rect x="1014" y="922" width="1" height="3" fill="#000"/>
<text x="1013" y="933.5" font-size="9.25" fill="#000">4 Mar 16:00</text>
<rect x="1078" y="922" width="1" height="3" fill="#000"/>
<text x="1077" y="933.5" font-size="9.25" fill="#000">8 Mar 00:00</text>
<rect x="1142" y="922" width="1" height="3" fill="#000"/>
<text x="1141" y="933.5" font-size="9.25" fill="#000">9 Mar 08:00</text>
<rect x="1206" y="922" width="1" height="3" fill="#000"/>
<text x="1205" y="933.5" font-size="9.25" fill="#000">10 Mar 16:00</text>
<rect x="1270" y="922" width="1" height="3" fill="#000"/>
<text x="1269" y="933.5" font-size="9.25" fill="#000">14 Mar 00:00</text>
<rect x="1334" y="922" width="1" height="3" fill="#000"/>
<text x="1333" y="933.5" font-size="9.25" fill="#000">15 Mar 08:00</text>
<rect x="1398" y="922" width="1" height="3" fill="#000"/>
<text x="1397" y="933.5" font-size="9.25" fill="#000">16 Mar 16:00</text>
<line x1="1207.0" y1="485.0" x2="1415.2" y2="194.1" stroke="#ff0000" stroke-width="3.4" shape-rendering="crispEdges"/>
<polygon points="1420.3,187.0 1417.1,197.2 1411.6,193.3" fill="#ff0000" stroke="#ff0000" stroke-width="2" stroke-linejoin="round"/>
<line x1="1262.5" y1="627.5" x2="1438.3" y2="578.9" stroke="#ff0000" stroke-width="3.0" shape-rendering="crispEdges"/>
<polygon points="1445.8,576.8 1437.9,582.5 1436.1,576.1" fill="#ff0000" stroke="#ff0000" stroke-width="2" stroke-linejoin="round"/>
<line x1="1273.0" y1="827.0" x2="1403.5" y2="783.4" stroke="#ff0000" stroke-width="3.0" shape-rendering="crispEdges"/>
<polygon points="1410.9,780.9 1403.2,786.9 1401.1,780.7" fill="#ff0000" stroke="#ff0000" stroke-width="2" stroke-linejoin="round"/>
<defs>
<linearGradient id="gBtn" x1="0" y1="0" x2="0" y2="1"><stop offset="0" stop-color="#5a5aff"/><stop offset="1" stop-color="#3434e4"/></linearGradient>
<linearGradient id="gPx" x1="0" y1="0" x2="0" y2="1"><stop offset="0" stop-color="#3838e6"/><stop offset="1" stop-color="#0404b4"/></linearGradient>
<linearGradient id="gSpin" x1="0" y1="0" x2="0" y2="1"><stop offset="0" stop-color="#f2f2f2"/><stop offset="0.35" stop-color="#ececec"/><stop offset="0.36" stop-color="#dcdcdc"/><stop offset="1" stop-color="#d2d2d2"/></linearGradient>
</defs>
<g shape-rendering="crispEdges">
<!-- SELL -->
<rect x="0" y="40" width="45" height="25" fill="#0000b4"/>
<rect x="0" y="41" width="44" height="22" fill="url(#gBtn)"/>
<rect x="0" y="64" width="102" height="33" fill="#0000b4"/>
<rect x="0" y="65" width="101" height="31" fill="url(#gPx)"/>
<rect x="0" y="63" width="42" height="1" fill="#0000a0"/>
<rect x="0" y="64" width="42" height="1" fill="#7c7cff"/>
<!-- BUY -->
<rect x="160" y="40" width="52" height="25" fill="#0000b4"/>
<rect x="161" y="41" width="50" height="22" fill="url(#gBtn)"/>
<rect x="104" y="64" width="108" height="33" fill="#0000b4"/>
<rect x="105" y="65" width="106" height="31" fill="url(#gPx)"/>
<rect x="164" y="63" width="44" height="1" fill="#0000a0"/>
<rect x="164" y="64" width="44" height="1" fill="#7c7cff"/>
<!-- lot input -->
<rect x="47" y="40" width="111" height="22" fill="#a8a8a8"/>
<rect x="48" y="41" width="109" height="20" fill="#fff"/>
<rect x="49" y="42" width="19" height="17" fill="url(#gSpin)"/>
<rect x="68" y="41" width="1" height="20" fill="#a8a8a8"/>
<rect x="137" y="41" width="1" height="20" fill="#a8a8a8"/>
<rect x="138" y="42" width="18" height="17" fill="url(#gSpin)"/>
</g>
<polygon points="55,49 60.5,49 57.75,52" fill="#4a64c8"/>
<polygon points="144.5,52 150,52 147.25,49" fill="#4a64c8"/>
<text x="132.5" y="55" font-size="12" fill="#000" text-anchor="end" textLength="22.5" lengthAdjust="spacingAndGlyphs">1.00</text>
<g fill="#fff">
<text x="6" y="56.2" font-size="12.2" textLength="25" lengthAdjust="spacingAndGlyphs">SELL</text>
<text x="174" y="56" font-size="12.2" textLength="23" lengthAdjust="spacingAndGlyphs">BUY</text>
<text x="16.8" y="92" font-size="12" font-weight="bold" textLength="19.6" lengthAdjust="spacingAndGlyphs">155</text>
<text x="40.8" y="92" font-size="33.5" textLength="33.6" lengthAdjust="spacingAndGlyphs">99</text>
<text x="80.6" y="75.8" font-size="12" font-weight="bold">1</text>
<text x="126.8" y="92" font-size="12" font-weight="bold" textLength="20.2" lengthAdjust="spacingAndGlyphs">156</text>
<text x="152.4" y="92" font-size="33.5" textLength="33.4" lengthAdjust="spacingAndGlyphs">21</text>
<text x="191" y="76" font-size="12" font-weight="bold">2</text>
</g>

</svg></body></html>
